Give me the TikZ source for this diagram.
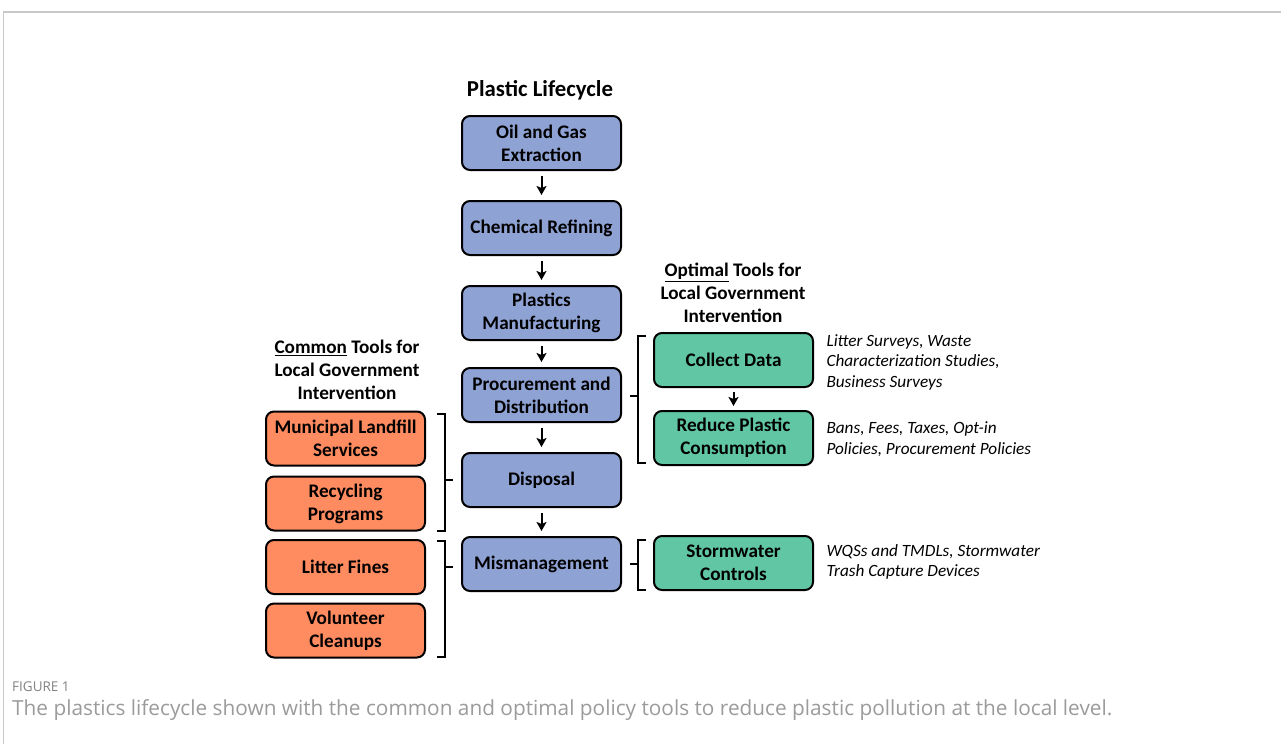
\documentclass[tikz,border=0pt]{standalone}
\usepackage{fontspec}
\setmainfont{Carlito}
\newfontfamily\capfont{Open Sans}
\usetikzlibrary{arrows.meta}
\definecolor{lcblue}{RGB}{143,162,212}
\definecolor{lcorange}{RGB}{255,139,96}
\definecolor{lcgreen}{RGB}{96,198,163}
\definecolor{framegray}{RGB}{200,200,200}
\definecolor{capgray}{RGB}{130,130,130}
\begin{document}
\begin{tikzpicture}[x=1pt,y=-1pt,
  box/.style={draw=black,line width=2pt,rounded corners=8pt,minimum width=159pt,minimum height=54pt,
    align=center,inner sep=0pt,font=\fontsize{19.2}{23}\selectfont\bfseries},
  bluebox/.style={box,fill=lcblue},
  orbox/.style={box,fill=lcorange},
  grbox/.style={box,fill=lcgreen},
  flow/.style={-{Stealth[length=9pt,width=10pt,inset=2pt]},line width=2pt},
  brk/.style={line width=1.6pt},
  head/.style={align=center,font=\fontsize{19.2}{23}\selectfont\bfseries},
  note/.style={anchor=west,align=left,font=\fontsize{17.2}{20.5}\selectfont\itshape}]
\useasboundingbox (0,0) rectangle (1281,744);
\fill[white] (0,0) rectangle (1281,744);
\draw[framegray,line width=1.2pt] (1281,12) -- (3.5,12) -- (3.5,744);

\node[head,font=\fontsize{22.8}{26}\selectfont\bfseries] (title) at (540,90) {Plastic Lifecycle};

\node[bluebox] (oil) at (541.5,143) {Oil and Gas\\Extraction};
\node[bluebox] (chem) at (541.5,228) {Chemical Refining};
\node[bluebox] (manu) at (541.5,313) {Plastics\\Manufacturing};
\node[bluebox] (proc) at (541.5,395) {Procurement and\\Distribution};
\node[bluebox] (disp) at (541.5,480) {Disposal};
\node[bluebox] (mism) at (541.5,564) {Mismanagement};

\draw[flow] ([yshift=-5pt]oil.south) -- ([yshift=5pt]chem.north);
\draw[flow] ([yshift=-5pt]chem.south) -- ([yshift=5pt]manu.north);
\draw[flow] ([yshift=-5pt]manu.south) -- ([yshift=5pt]proc.north);
\draw[flow] ([yshift=-5pt]proc.south) -- ([yshift=5pt]disp.north);
\draw[flow] ([yshift=-5pt]disp.south) -- ([yshift=5pt]mism.north);

\node[head] (opth) at (733,293) {\underline{Optimal} Tools for\\Local Government\\Intervention};
\node[head] (comh) at (347,370) {\underline{Common} Tools for\\Local Government\\Intervention};

\node[grbox] (coll) at (733.5,360) {Collect Data};
\node[grbox] (redu) at (733.5,438) {Reduce Plastic\\Consumption};
\node[grbox] (storm) at (733.5,563) {Stormwater\\Controls};
\draw[flow] ([yshift=-4pt]coll.south) -- ([yshift=4pt]redu.north);

\node[orbox] (muni) at (345.5,438.5) {Municipal Landfill\\Services};
\node[orbox] (recy) at (345.5,503.5) {Recycling\\Programs};
\node[orbox] (litt) at (345.5,567) {Litter Fines};
\node[orbox] (volu) at (345.5,630.5) {Volunteer\\Cleanups};

% brackets beside the common tools
\coordinate (b1t) at (437,414); \coordinate (b1m) at (445,480); \coordinate (b1e) at (453,480);
\draw[brk] (b1t) -- ++(8,0) -- ++(0,117) -- ++(-8,0);
\draw[brk] (b1m) -- (b1e);
\coordinate (b2t) at (437,541); \coordinate (b2m) at (445,567); \coordinate (b2e) at (453,567);
\draw[brk] (b2t) -- ++(8,0) -- ++(0,116) -- ++(-8,0);
\draw[brk] (b2m) -- (b2e);

% brackets beside the optimal tools
\coordinate (b3t) at (646,336); \coordinate (b3m) at (638,396); \coordinate (b3e) at (630,396);
\draw[brk] (b3t) -- ++(-8,0) -- ++(0,127) -- ++(8,0);
\draw[brk] (b3m) -- (b3e);
\coordinate (b4t) at (646,540); \coordinate (b4m) at (638,564); \coordinate (b4e) at (630,564);
\draw[brk] (b4t) -- ++(-8,0) -- ++(0,50) -- ++(8,0);
\draw[brk] (b4m) -- (b4e);

\node[note] (n1) at (823,362) {Litter Surveys, Waste\\Characterization Studies,\\Business Surveys};
\node[note] (n2) at (823,439) {Bans, Fees, Taxes, Opt-in\\Policies, Procurement Policies};
\node[note] (n3) at (823,562) {WQSs and TMDLs, Stormwater\\Trash Capture Devices};

\node[anchor=west,inner sep=0pt,text=capgray,font=\capfont\fontsize{13.5}{16}\selectfont] (fig) at (12,687) {FIGURE 1};
\node[anchor=west,inner sep=0pt,text=capgray!80,font=\capfont\fontsize{20.8}{24}\selectfont] (cap) at (12,710) {The plastics lifecycle shown with the common and optimal policy tools to reduce plastic pollution at the local level.};
\end{tikzpicture}
\end{document}
